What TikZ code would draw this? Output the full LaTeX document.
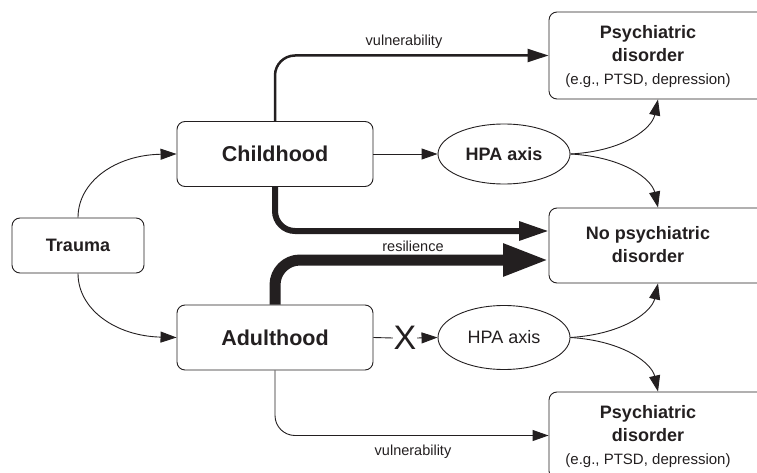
\documentclass[tikz,border=0pt]{standalone}
\usepackage{fontspec}
\setmainfont{Liberation Sans}
\usetikzlibrary{arrows.meta,shapes.geometric}
\definecolor{ink}{HTML}{231F20}
\tikzset{
 box/.style={draw=ink, line width=0.9pt, rounded corners=8pt, inner sep=0pt, text=ink},
 hpa/.style={draw=ink, line width=0.9pt, ellipse, minimum width=132pt, inner sep=0pt, text=ink},
 arr/.style={draw=ink, line width=0.9pt, -{Triangle[length=16pt,width=11pt]}},
 plainline/.style={draw=ink, line width=0.9pt},
 lbl/.style={font=\fontsize{14.5}{17}\selectfont, text=ink, anchor=base, inner sep=0pt},
 big/.style={font=\bfseries\fontsize{18}{23}\selectfont, text=ink, align=center, inner sep=0pt}
}
\begin{document}
\begin{tikzpicture}[x=1pt,y=-1pt]
\useasboundingbox (0,0) rectangle (757,473);
% boxes
\node[box, minimum width=132pt, minimum height=55pt, font=\bfseries\fontsize{18}{22}\selectfont] (trauma) at (78,245.5) {Trauma};
\node[box, minimum width=196pt, minimum height=65pt, font=\bfseries\fontsize{21.5}{26}\selectfont] (child) at (275,154) {Childhood};
\node[box, minimum width=196pt, minimum height=65pt, font=\bfseries\fontsize{21.5}{26}\selectfont] (adult) at (275,337.5) {Adulthood};
\node[hpa, minimum height=60pt, font=\bfseries\fontsize{18}{22}\selectfont] (hpa1) at (504,154) {HPA axis};
\node[hpa, minimum height=64pt, font=\fontsize{18}{22}\selectfont] (hpa2) at (504,337.5) {HPA axis};
\node[box, minimum width=218pt, minimum height=87pt] (p1) at (658,55.5) {};
\node[big] (p1t) at (648,57) {Psychiatric\\disorder\\{\mdseries\fontsize{15}{23}\selectfont (e.g., PTSD, depression)}};
\node[box, minimum width=218pt, minimum height=75pt] (np) at (658,245.5) {};
\node[big] (npt) at (648,244.5) {No psychiatric\\disorder};
\node[box, minimum width=218pt, minimum height=87pt] (p2) at (658,435.5) {};
\node[big] (p2t) at (648,437) {Psychiatric\\disorder\\{\mdseries\fontsize{15}{23}\selectfont (e.g., PTSD, depression)}};
\node[font=\fontsize{34}{34}\selectfont, text=ink, inner sep=0.5pt] (x) at (405,338) {X};
\coordinate (np1) at (549,231);
\coordinate (np2) at (549,260);
% labels
\node[lbl] (v1) at (404,46) {vulnerability};
\node[lbl] (res) at (413,251) {resilience};
\node[lbl] (v2) at (413,455) {vulnerability};
% connectors
\draw[arr] (trauma.north) .. controls (78,182) and (115,155) .. (child.west);
\draw[arr] (trauma.south) .. controls (78,309) and (115,336) .. (adult.west);
\draw[arr] (child.east) -- (hpa1.west);
\draw[plainline] (adult.east) -- (x.west);
\draw[arr] (x.east) -- (hpa2.west);
\draw[arr] (hpa1.east) .. controls (625,151) and (652,128) .. (p1.south);
\draw[arr] (hpa1.east) .. controls (625,157) and (652,180) .. (np.north);
\draw[arr] (hpa2.east) .. controls (625,334) and (652,311) .. (np.south);
\draw[arr] (hpa2.east) .. controls (625,341) and (652,364) .. (p2.north);
\draw[draw=ink, line width=2.5pt, rounded corners=20pt, -{Triangle[length=21pt,width=13pt]}] (child.north) |- (p1.west);
\draw[draw=ink, line width=6pt, rounded corners=20pt, -{Triangle[length=30pt,width=18pt]}] (child.south) |- (np1);
\draw[draw=ink, line width=11pt, rounded corners=25pt, -{Triangle[length=46pt,width=30pt]}] (adult.north) |- (np2);
\draw[arr, rounded corners=20pt] (adult.south) |- (p2.west);
\end{tikzpicture}
\end{document}
